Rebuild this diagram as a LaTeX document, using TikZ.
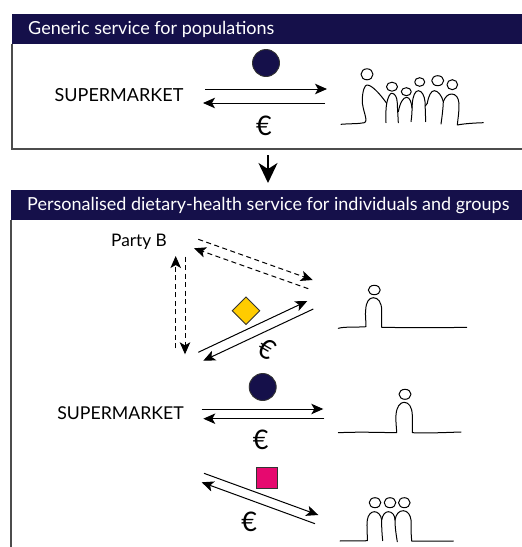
\documentclass[tikz,border=0pt]{standalone}
\usepackage{fontspec}
\setmainfont{Lato}
\usetikzlibrary{arrows.meta,shapes.geometric}
\definecolor{navy}{HTML}{15104A}
\definecolor{gold}{HTML}{FFCC00}
\definecolor{pink}{HTML}{E6096F}
\tikzset{
  px/.style={x=1pt,y=-1pt},
  headtxt/.style={text=white,anchor=west,font=\fontsize{18}{20}\selectfont,inner sep=0pt},
  frame/.style={draw=black!70,line width=1.1pt},
  flow/.style={draw=black,line width=1pt,-{Stealth[length=12pt,width=10.5pt,inset=3pt]}},
  dflow/.style={flow,dash pattern=on 5pt off 3.5pt},
  lab/.style={font=\fontsize{18}{20}\selectfont,inner sep=0pt},
  euro/.style={font=\fontsize{27}{28}\selectfont,inner sep=0pt},
  sketch/.style={draw=black,line width=1pt,line join=round,line cap=round},
  sym/.style={draw=black!80,line width=.9pt,inner sep=0pt}
}
\begin{document}
\begin{tikzpicture}[px]
\useasboundingbox (0,0) rectangle (522,547);
% top panel
\draw[frame] (12,44) -- (12,149) -- (522,149);
\fill[navy] (12,14) rectangle (522,44);
\node[headtxt] (h1) at (28,29.5) {Generic service for populations};
\node[lab] (sm1) at (119,95) {SUPERMARKET};
\node[circle,fill=navy,sym,minimum size=27pt] (c1) at (266,63) {};
\coordinate (a1s) at (205,89); \coordinate (a1e) at (327,89);
\coordinate (b1s) at (325,103); \coordinate (b1e) at (203,103);
\draw[flow] (a1s) -- (a1e);
\draw[flow] (b1s) -- (b1e);
\node[euro] (e1) at (264,126) {€};
% crowd
\draw[sketch] (367,74.3) ellipse[x radius=6,y radius=5.5];
\draw[sketch] (392,86.7) ellipse[x radius=5.5,y radius=4.5];
\draw[sketch] (406.3,91.7) ellipse[x radius=5,y radius=4];
\draw[sketch] (419.7,82) ellipse[x radius=5,y radius=4.3];
\draw[sketch] (437.7,80.7) ellipse[x radius=6,y radius=5];
\draw[sketch] (452.3,84.7) ellipse[x radius=5.3,y radius=5];
\draw[sketch] (341,124.3) .. controls (350,123.5) and (358,124) .. (364.3,122.7)
  .. controls (369,121) and (362,110) .. (362.3,100)
  .. controls (362.5,90) and (365,85) .. (367,85)
  .. controls (372,85) and (380,94) .. (386.7,103.3)
  .. controls (385.5,110) and (386,116) .. (386,122.7);
\draw[sketch] (386.7,103.3) .. controls (388,97) and (390,93.3) .. (391.7,93.3)
  .. controls (395,93.3) and (397,97) .. (397.3,103)
  .. controls (397.5,110) and (398,116) .. (398.3,122.7);
\draw[sketch] (398.3,111.7) .. controls (400,103) and (403,97.3) .. (406.7,97.3)
  .. controls (410,97.3) and (411.5,103) .. (412,108);
\draw[sketch] (412.3,103.3) .. controls (412,110) and (412,116) .. (411,121.7);
\draw[sketch] (412.3,103.3) .. controls (413,96) and (415,90.7) .. (418.3,90.7)
  .. controls (422,90.7) and (424.5,96) .. (425,101.7)
  .. controls (425.3,110) and (425.5,116) .. (425.7,121.7);
\draw[sketch] (427.3,103.3) .. controls (428.5,96) and (431,90.7) .. (434.3,90.7)
  .. controls (438,90.7) and (442,96) .. (443.3,101.7)
  .. controls (443,110) and (442,117) .. (441,124);
\draw[sketch] (425.3,106) -- (427.3,103.3);
\draw[sketch] (443.3,101.7) .. controls (445,97) and (448,94) .. (451.7,94)
  .. controls (456,94) and (458.5,98) .. (459,103.3)
  .. controls (459.3,111) and (458,118) .. (457.3,125)
  .. controls (465,123.5) and (475,123) .. (483.3,122.7);
% arrow between panels
\coordinate (ds) at (268,155); \coordinate (de) at (268,183);
\draw[-{Stealth[length=20pt,width=19pt,inset=6pt]},line width=1.7pt] (ds) -- (de);
% lower panel
\draw[frame] (11,220) -- (11,547);
\fill[navy] (11,190) rectangle (522,220);
\node[headtxt] (h2) at (27,205.5) {Personalised dietary-health service for individuals and groups};
\node[lab,font=\fontsize{17.3}{20}\selectfont] (pb) at (139,241.7) {Party B};
\coordinate (t1s) at (198.3,239.3); \coordinate (t1e) at (312.7,280);
\coordinate (t2s) at (308.3,288.7); \coordinate (t2e) at (194,248.3);
\draw[dflow] (t1s) -- (t1e);
\draw[dflow] (t2s) -- (t2e);
\coordinate (l1s) at (175.7,348.3); \coordinate (l1e) at (175.7,256);
\coordinate (l2s) at (185,256.7); \coordinate (l2e) at (185,354.3);
\draw[dflow] (l1s) -- (l1e);
\draw[dflow] (l2s) -- (l2e);
\coordinate (d1s) at (198.3,352.3); \coordinate (d1e) at (307.3,301);
\coordinate (d2s) at (313.3,309); \coordinate (d2e) at (203.3,360.7);
\draw[flow] (d1s) -- (d1e);
\draw[flow] (d2s) -- (d2e);
\node[diamond,fill=gold,sym,minimum width=28pt,minimum height=28pt,aspect=1] (dm) at (246,310.7) {};
\node[euro,rotate=-30] (e2) at (266.7,349) {€};
% single person 1
\draw[sketch] (374.3,290) ellipse[x radius=6,y radius=4.7];
\draw[sketch] (338.3,328.3) .. controls (345,326.5) and (355,327.5) .. (366,326.7)
  .. controls (366,320) and (365,315) .. (365.7,310)
  .. controls (366,302) and (369,297.7) .. (373.3,297.7)
  .. controls (378,297.7) and (381.5,302) .. (381.7,310)
  .. controls (381.7,316) and (381.5,322) .. (381.7,327.3)
  .. controls (410,327.8) and (440,327.8) .. (466.7,327.3);
% middle row
\node[lab,font=\fontsize{17.7}{20}\selectfont] (sm2) at (120.5,413) {SUPERMARKET};
\node[circle,fill=navy,sym,minimum size=27pt] (c2) at (262.7,387) {};
\coordinate (a2s) at (201.7,409); \coordinate (a2e) at (323.3,409);
\coordinate (b2s) at (324.3,418.7); \coordinate (b2e) at (203.3,418.7);
\draw[flow] (a2s) -- (a2e);
\draw[flow] (b2s) -- (b2e);
\node[euro] (e3) at (260.7,439.7) {€};
\draw[sketch] (405,394.3) ellipse[x radius=6,y radius=5];
\draw[sketch] (338.3,432.7) .. controls (360,431.7) and (380,432.5) .. (396.7,432.7)
  .. controls (396.5,427) and (395.5,421) .. (396,415)
  .. controls (396.5,407) and (400,402.3) .. (404,402.3)
  .. controls (409,402.3) and (412,407) .. (412.3,415)
  .. controls (412.5,421) and (412.3,427) .. (412.3,432.7)
  .. controls (430,433.3) and (445,432.5) .. (461,432);
% bottom row
\node[rectangle,fill=pink,sym,minimum size=20.6pt] (sq) at (267,478) {};
\coordinate (a3s) at (204,473.3); \coordinate (a3e) at (318.3,515);
\coordinate (b3s) at (315,523.7); \coordinate (b3e) at (201.7,482.3);
\draw[flow] (a3s) -- (a3e);
\draw[flow] (b3s) -- (b3e);
\node[euro] (e4) at (249.3,522.3) {€};
\draw[sketch] (375,502.7) ellipse[x radius=5.8,y radius=5];
\draw[sketch] (390,502.7) ellipse[x radius=5.8,y radius=5];
\draw[sketch] (404.3,502.7) ellipse[x radius=5.8,y radius=5];
\draw[sketch] (340,541) .. controls (350,540.5) and (360,541) .. (367.3,540.7)
  .. controls (367.5,533) and (366.5,527) .. (367.3,520)
  .. controls (368,515) and (371,511.7) .. (374.3,511.7)
  .. controls (378,511.7) and (381,515) .. (381.7,520)
  .. controls (381.5,527) and (382,534) .. (382.7,540.7);
\draw[sketch] (381.7,520) .. controls (382.5,515) and (385,511.7) .. (388.3,511.7)
  .. controls (392,511.7) and (395,515) .. (395,520)
  .. controls (395,527) and (396,534) .. (397.3,541.7);
\draw[sketch] (395,520) .. controls (396,514) and (399,510.7) .. (403.3,510.7)
  .. controls (407.5,510.7) and (410.5,515) .. (411,520)
  .. controls (411,527) and (411,534) .. (411.7,541)
  -- (453.3,541);
\end{tikzpicture}
\end{document}
